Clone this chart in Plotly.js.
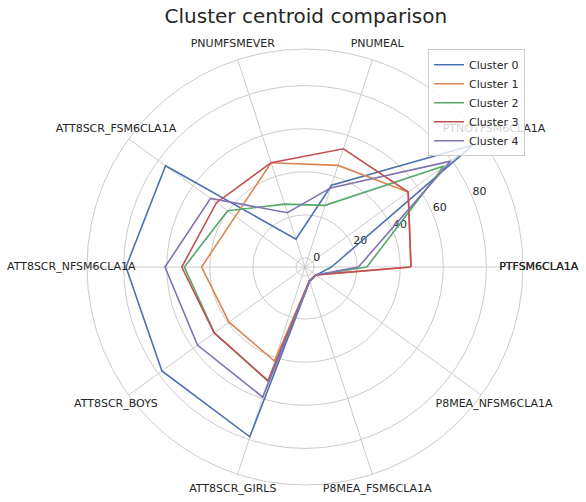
<!DOCTYPE html>
<html>
<head>
<meta charset="utf-8">
<script src="https://cdn.plot.ly/plotly-3.0.1.min.js"></script>
<style>html,body{margin:0;padding:0;background:#fff;}#chart{width:586px;height:502px;}</style>
</head>
<body>
<div id="chart"></div>
<script>
const categories = ['PTFSM6CLA1A','PTNOTFSM6CLA1A','PNUMEAL','PNUMFSMEVER','ATT8SCR_FSM6CLA1A','ATT8SCR_NFSM6CLA1A','ATT8SCR_BOYS','ATT8SCR_GIRLS','P8MEA_FSM6CLA1A','P8MEA_NFSM6CLA1A'];
const seriesNames = ['Cluster 0','Cluster 1','Cluster 2','Cluster 3','Cluster 4'];
const cluster0 = [8.1, 91.9, 35.7, 9.4, 75.8, 78.9, 77.9, 78.7, 2.8, 2.2];
const cluster1 = [45.0, 55.0, 45.4, 46.7, 35.8, 43.8, 39.4, 41.7, 2.5, 2.0];
const cluster2 = [24.5, 75.5, 25.9, 26.5, 40.2, 51.8, 47.8, 51.5, 2.6, 2.1];
const cluster3 = [45.0, 55.0, 53.5, 46.7, 46.6, 53.0, 47.9, 51.3, 2.5, 2.0];
const cluster4 = [20.6, 79.4, 34.4, 22.3, 50.0, 60.8, 57.5, 59.3, 2.7, 2.1];
const radialTickValues = [0, 20, 40, 60, 80];
const radialTickLabels = ['0', '20', '40', '60', '80'];

const colors = ['#4c72b0','#dd8452','#55a868','#c44e52','#8172b3'];
const textColor = '#262626';
const fontFamily = 'DejaVu Sans, sans-serif';
const gridColor = '#cccccc';

const n = categories.length;
const angles = categories.map((_, i) => i * 360 / n);
const closedAngles = angles.concat([angles[0]]);
const closedLabels = categories.concat([categories[0]]);

const labelRadius = 104.4;
const rlabelAngle = 22.5;

const traces = [];
// category labels, drawn in an invisible outer polar that shares the centre and scale
traces.push({
  type: 'scatterpolar', subplot: 'polar2', mode: 'text',
  theta: closedAngles, r: closedAngles.map(() => labelRadius),
  text: closedLabels, textposition: 'middle center',
  textfont: {family: fontFamily, size: 11, color: textColor},
  cliponaxis: false, showlegend: false, hoverinfo: 'skip'
});
// radial tick labels
traces.push({
  type: 'scatterpolar', mode: 'text',
  theta: radialTickValues.map(() => rlabelAngle), r: radialTickValues,
  text: radialTickLabels, textposition: 'top right',
  textfont: {family: fontFamily, size: 11, color: textColor},
  cliponaxis: false, showlegend: false, hoverinfo: 'skip'
});

const allSeries = [cluster0, cluster1, cluster2, cluster3, cluster4];
allSeries.forEach((vals, i) => {
  traces.push({
    type: 'scatterpolar', mode: 'lines',
    theta: closedAngles, r: vals.concat([vals[0]]),
    name: seriesNames[i],
    line: {color: colors[i], width: 1.6},
    cliponaxis: false
  });
});

const layout = {
  width: 586, height: 502,
  margin: {l: 0, r: 0, t: 0, b: 0},
  paper_bgcolor: '#ffffff',
  font: {family: fontFamily, size: 11, color: textColor},
  title: {
    text: 'Cluster centroid comparison',
    font: {family: fontFamily, size: 20, color: textColor},
    x: 0.522, xanchor: 'center', xref: 'paper',
    y: 0.968, yanchor: 'middle', yref: 'container'
  },
  showlegend: true,
  legend: {
    x: 0.7304, y: 0.902, xanchor: 'left', yanchor: 'top',
    bgcolor: 'rgba(255,255,255,0.8)', bordercolor: gridColor, borderwidth: 1,
    font: {family: fontFamily, size: 11, color: textColor},
    itemwidth: 30, traceorder: 'normal'
  },
  polar: {
    domain: {x: [0.14846, 0.89249], y: [0.03386, 0.90239]},
    bgcolor: '#ffffff',
    angularaxis: {
      type: 'linear', thetaunit: 'degrees', rotation: 0, direction: 'counterclockwise',
      tickmode: 'array', tickvals: angles, showticklabels: false, ticks: '',
      showgrid: true, gridcolor: gridColor, gridwidth: 1,
      showline: true, linecolor: gridColor, linewidth: 1
    },
    radialaxis: {
      range: [-4.2, 97], tickmode: 'array', tickvals: radialTickValues,
      showticklabels: false, ticks: '', showline: false,
      showgrid: true, gridcolor: gridColor, gridwidth: 1
    }
  },
  polar2: {
    domain: {x: [0.11945, 0.92150], y: [0, 0.93625]},
    bgcolor: 'rgba(0,0,0,0)',
    angularaxis: {
      type: 'linear', thetaunit: 'degrees', rotation: 0, direction: 'counterclockwise',
      showticklabels: false, ticks: '', showgrid: false, showline: false
    },
    radialaxis: {
      range: [-4.2, 105], showticklabels: false, ticks: '', showline: false, showgrid: false
    }
  }
};

Plotly.newPlot('chart', traces, layout, {displayModeBar: false, staticPlot: true});
</script>
</body>
</html>
